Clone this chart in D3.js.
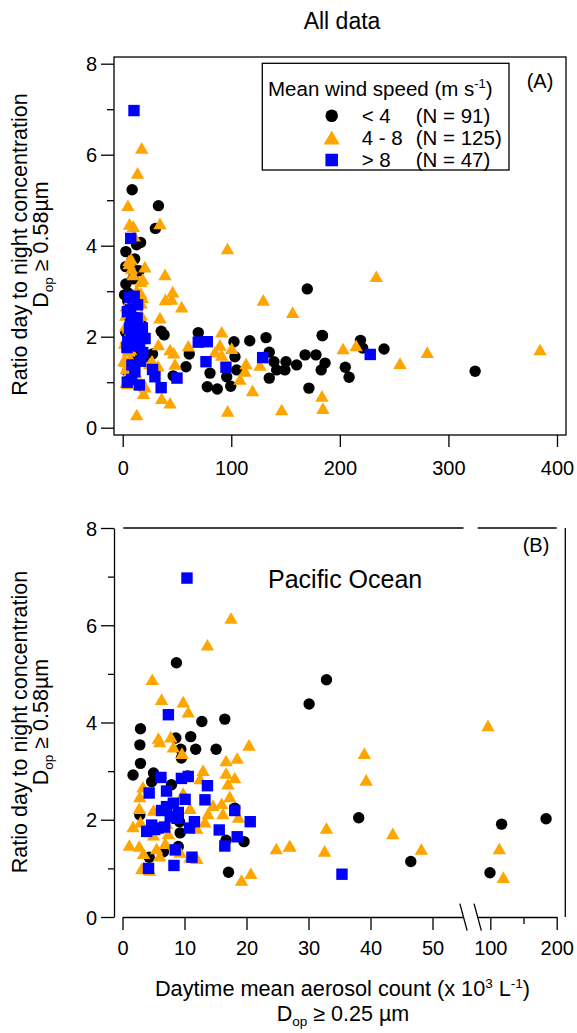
<!DOCTYPE html>
<html><head><meta charset="utf-8">
<script src="https://cdn.jsdelivr.net/npm/d3@7"></script>
<style>
body{margin:0;background:#fff}
svg{display:block}
text{font-family:"Liberation Sans",Arial,sans-serif;fill:#000}
</style>
</head><body>
<svg id="c" width="577" height="1033"></svg>
<script>
// ---- data: [daytime aerosol count (x10^3 /L), day/night ratio] ----
// Pacific Ocean subset (shown in both panels)
const pacificLow = [[8.7,5.23],[12.8,4.02],[16.5,4.07],[2.9,3.87],[2.8,3.54],[8.6,3.68],[11.0,3.71],[11.8,3.45],[15.1,3.45],[9.4,3.45],[9.5,3.27],[2.9,3.16],[1.7,2.92],[5.0,2.96],[4.7,2.78],[10.5,2.90],[7.9,2.72],[18.1,2.24],[2.8,2.10],[9.2,1.96],[9.3,1.73],[16.7,1.58],[19.6,1.55],[9.0,1.45],[4.3,1.23],[6.6,1.34],[17.1,0.92],[32.9,4.88],[30.1,4.38],[38.1,2.04],[46.5,1.14],[117,1.91],[184,2.02],[99.5,0.91]];
const pacificMid = [[13.7,5.6],[17.5,6.15],[4.8,4.89],[6.3,4.48],[9.8,4.43],[10.6,4.22],[5.8,3.68],[6.0,3.61],[7.8,3.71],[8.2,3.50],[9.6,3.37],[20.4,3.54],[16.7,3.22],[18.5,3.27],[13.0,3.02],[12.5,2.85],[16.7,2.96],[18.1,2.87],[17.0,2.74],[3.3,2.68],[2.8,2.48],[17.3,2.48],[2.7,2.24],[5.0,2.20],[14.6,2.30],[16.0,2.34],[16.2,2.13],[13.8,2.13],[10.9,2.24],[18.7,2.06],[2.9,1.96],[1.7,1.86],[13.3,1.96],[12.0,1.83],[9.8,2.55],[7.4,1.72],[5.0,1.69],[1.1,1.48],[2.7,1.46],[3.4,1.31],[5.5,1.41],[6.9,1.52],[6.0,1.26],[9.3,1.34],[12.0,1.21],[10.9,1.24],[3.1,1.00],[4.4,0.97],[24.8,1.41],[26.9,1.46],[19.2,0.76],[20.7,0.90],[7.1,1.93],[96.5,3.94],[39.0,3.37],[39.3,2.82],[32.9,1.83],[27.0,1.47],[32.6,1.36],[43.6,1.72],[48.2,1.40],[113.6,1.41],[119.6,0.82]];
const pacificHigh = [[10.4,6.97],[7.4,4.16],[6.2,2.87],[9.5,2.85],[10.6,2.89],[13.7,2.70],[4.3,2.55],[7.1,2.59],[13.3,2.41],[10.1,2.42],[8.2,2.34],[7.1,2.27],[6.3,2.19],[18.1,2.19],[7.7,2.06],[8.8,2.03],[11.6,1.96],[20.6,1.96],[4.7,1.89],[5.8,1.83],[3.9,1.76],[10.8,1.83],[15.6,1.79],[18.5,1.65],[8.5,1.38],[16.5,1.46],[11.2,1.23],[8.3,1.06],[4.2,1.00],[35.4,0.88],[5.2,1.80],[6.8,1.85],[9.0,2.15]];
// other regions (top panel only)
const otherLow = [[35.5,2.12],[27.5,1.62],[61.3,1.62],[58.3,1.34],[69.6,2.09],[80.4,1.20],[77.9,0.90],[87.1,0.85],[95.8,1.12],[102.5,1.89],[103.4,1.56],[105,1.27],[132,1.98],[135,1.66],[139.3,1.45],[135,1.09],[141.8,1.27],[150.4,1.45],[149.4,1.27],[160.2,1.38],[170,3.05],[183.7,2.03],[219,1.92],[221,1.75],[240.7,1.73],[324.6,1.24],[168,1.6],[178,1.6],[171.5,0.87],[186.4,1.42],[182.8,1.27],[205,1.33],[208.5,1.11]];
const otherMid = [[12.9,0.29],[34.3,4.49],[46,2.99],[45.1,2.83],[54.3,2.66],[34.3,2.42],[43.6,0.55],[35.9,0.65],[60.4,1.80],[47,1.65],[129.5,2.81],[156.5,2.54],[146.4,0.40],[96.7,0.37],[91.2,2.11],[85,1.67],[89.6,1.82],[91.2,1.6],[100.4,1.75],[108,1.07],[112.6,1.25],[126.4,1.38],[233.6,3.33],[203,1.74],[215,1.81],[280.5,1.66],[384.4,1.72],[255.4,1.42],[184.4,0.43],[183.5,0.70]];
const otherHigh = [[69.6,1.88],[77.9,1.89],[76.7,1.45],[95.1,1.33],[128.9,1.54],[228,1.61],[50,1.09],[29.7,1.12],[15.3,0.94],[27.5,1.28]];

const legendLabels = ["< 4","4 - 8","> 8"];
const legendCounts = ["(N = 91)","(N = 125)","(N = 47)"];
const topXTicks = [0,100,200,300,400];
const yMajor = [0,2,4,6,8];
const yMinor = [1,3,5,7];
const botLeftTicks = [0,10,20,30,40,50];
const botRightTicks = [100,200];
const botRightMinor = [150];

const ORANGE = "#FFA500", BLUE = "#0000FF", BLACK = "#000000";
const FS = 20;
const svg = d3.select("#c");

function drawMarkers(g, pts, type, xf, yf, s){
  s = s || 1;
  if(type === "circle"){
    g.selectAll(null).data(pts).join("circle")
      .attr("cx", d=>xf(d[0])).attr("cy", d=>yf(d[1])).attr("r", 5.7*s).attr("fill", BLACK);
  } else if(type === "tri"){
    const w = 6.7*s, h = 5.8*s;
    g.selectAll(null).data(pts).join("path")
      .attr("d", d=>{const x=xf(d[0]), y=yf(d[1]); return `M${x-w},${y+h}L${x+w},${y+h}L${x},${y-h}Z`;})
      .attr("fill", ORANGE);
  } else {
    const a = 5.7*s;
    g.selectAll(null).data(pts).join("rect")
      .attr("x", d=>xf(d[0])-a).attr("y", d=>yf(d[1])-a).attr("width", 2*a).attr("height", 2*a)
      .attr("fill", BLUE);
  }
}
function styleAxis(g){
  g.selectAll("line").attr("stroke","#000").attr("stroke-width",1.3);
  g.selectAll("path.domain").attr("stroke","#000").attr("stroke-width",1.3);
  g.selectAll("text").style("font-size", FS+"px").attr("fill","#000");
}

// ---------------- Title ----------------
svg.append("text").attr("x",342).attr("y",29).attr("text-anchor","middle")
  .style("font-size","23px").text("All data");

// ---------------- Panel A ----------------
const xA = d3.scaleLinear().domain([0,400]).range([122.7,557]);
const yA = d3.scaleLinear().domain([0,8]).range([427.7,63.7]);
const frameA = {l:114, t:57, r:566, b:435};

const ptsA = svg.append("g");
drawMarkers(ptsA.append("g"), otherLow.concat(pacificLow), "circle", xA, yA);
drawMarkers(ptsA.append("g"), otherMid.concat(pacificMid), "tri", xA, yA);
drawMarkers(ptsA.append("g"), otherHigh.concat(pacificHigh), "sq", xA, yA);

svg.append("rect").attr("x",frameA.l).attr("y",frameA.t)
  .attr("width",frameA.r-frameA.l).attr("height",frameA.b-frameA.t)
  .attr("fill","none").attr("stroke","#000").attr("stroke-width",1.3);

const axXA = svg.append("g").attr("transform",`translate(0,${frameA.b})`)
  .call(d3.axisBottom(xA).tickValues(topXTicks).tickSize(12).tickSizeOuter(0).tickFormat(d3.format("d")));
axXA.select(".domain").remove();
styleAxis(axXA);
axXA.selectAll("text").attr("y",40).attr("dy",null);

const axYA = svg.append("g").attr("transform",`translate(${frameA.l},0)`)
  .call(d3.axisLeft(yA).tickValues(yMajor).tickSize(13).tickPadding(4).tickFormat(d3.format("d")));
axYA.select(".domain").remove();
styleAxis(axYA);
axYA.selectAll("text").attr("dy","0.35em");
const axYAm = svg.append("g").attr("transform",`translate(${frameA.l},0)`)
  .call(d3.axisLeft(yA).tickValues(yMinor).tickSize(7).tickFormat(""));
axYAm.select(".domain").remove();
styleAxis(axYAm);

// legend
const leg = svg.append("g");
leg.append("rect").attr("x",262.3).attr("y",63.3).attr("width",246.7).attr("height",106.7)
  .attr("fill","#fff").attr("stroke","#000").attr("stroke-width",1.3);
const lt = leg.append("text").attr("x",268).attr("y",95.7).style("font-size","20.5px");
lt.append("tspan").text("Mean wind speed (m s");
lt.append("tspan").attr("dy",-8).style("font-size","13px").text("-1");
lt.append("tspan").attr("dy",8).text(")");
const rowY = [115.7,137.5,160];
const legTypes = ["circle","tri","sq"];
legTypes.forEach((t,i)=>{
  const gx = leg.append("g");
  drawMarkers(gx, [[0,rowY[i]]], t, ()=>331.7, d=>d, t==="tri"?1.2:1.1);
  leg.append("text").attr("x",361.7).attr("y",rowY[i]+7).style("font-size","20.5px").text(legendLabels[i]);
  leg.append("text").attr("x",415.7).attr("y",rowY[i]+7).style("font-size","20.5px").text(legendCounts[i]);
});
svg.append("text").attr("x",526.7).attr("y",88).style("font-size",FS+"px").text("(A)");

// y label
function yLabel(cy){
  svg.append("text").attr("transform",`translate(27,${cy}) rotate(-90)`).attr("text-anchor","middle")
    .style("font-size","21.5px").text("Ratio day to night concentration");
  const t = svg.append("text").attr("transform",`translate(48,${cy}) rotate(-90)`).attr("text-anchor","middle")
    .style("font-size","21.5px");
  t.append("tspan").text("D");
  t.append("tspan").attr("dy",5).style("font-size","13.5px").text("op");
  t.append("tspan").attr("dy",-5).text(" \u2265 0.58\u00b5m");
}
yLabel(244.5);

// ---------------- Panel B ----------------
const xBL = d3.scaleLinear().domain([0,55]).range([122.5,463.5]);
const xBR = d3.scaleLinear().domain([81,200]).range([477.7,556.7]);
const xB = v => v <= 55 ? xBL(v) : xBR(v);
const yB = d3.scaleLinear().domain([0,8]).range([917,528]);
const rightB = 565.3;

const ptsB = svg.append("g");
drawMarkers(ptsB.append("g"), pacificLow, "circle", xB, yB);
drawMarkers(ptsB.append("g"), pacificMid, "tri", xB, yB);
drawMarkers(ptsB.append("g"), pacificHigh, "sq", xB, yB);

const axYB = svg.append("g").attr("transform",`translate(114,0)`)
  .call(d3.axisLeft(yB).tickValues(yMajor).tickSize(13).tickSizeOuter(0).tickPadding(4).tickFormat(d3.format("d")));
styleAxis(axYB);
axYB.selectAll("text").attr("dy","0.35em");
const axYBm = svg.append("g").attr("transform",`translate(114,0)`)
  .call(d3.axisLeft(yB).tickValues(yMinor).tickSize(6).tickFormat(""));
axYBm.select(".domain").remove();
styleAxis(axYBm);

const axBL = svg.append("g").attr("transform",`translate(0,${yB(0)})`)
  .call(d3.axisBottom(xBL).tickValues(botLeftTicks).tickSize(13).tickSizeOuter(0).tickFormat(d3.format("d")));
styleAxis(axBL);
axBL.selectAll("text").attr("y",38).attr("dy",null);
const axBR = svg.append("g").attr("transform",`translate(0,${yB(0)})`)
  .call(d3.axisBottom(xBR).tickValues(botRightTicks).tickSize(13).tickSizeOuter(0).tickFormat(d3.format("d")));
styleAxis(axBR);
axBR.selectAll("text").attr("y",38).attr("dy",null);
const axBRm = svg.append("g").attr("transform",`translate(0,${yB(0)})`)
  .call(d3.axisBottom(xBR).tickValues(botRightMinor).tickSize(7).tickFormat(""));
axBRm.select(".domain").remove();
styleAxis(axBRm);

// mirror lines (top & right)
const topY = yB(8);
[[xBL.range()[0]+0.8, xBL.range()[1]],[xBR.range()[0], xBR.range()[1]]].forEach(r=>{
  svg.append("line").attr("x1",r[0]).attr("x2",r[1]).attr("y1",topY).attr("y2",topY)
    .attr("stroke","#000").attr("stroke-width",1.3);
});
svg.append("line").attr("x1",rightB).attr("x2",rightB).attr("y1",topY).attr("y2",yB(0))
  .attr("stroke","#000").attr("stroke-width",1.3);
// axis break marks
[xBL.range()[1], xBR.range()[0]].forEach(x=>{
  svg.append("line").attr("x1",x-3.65).attr("y1",yB(0)-13.3).attr("x2",x+3.65).attr("y2",yB(0)+13.7)
    .attr("stroke","#000").attr("stroke-width",1.3);
});

svg.append("text").attr("x",268).attr("y",588).style("font-size","25px").text("Pacific Ocean");
svg.append("text").attr("x",522.7).attr("y",551.5).style("font-size",FS+"px").text("(B)");
yLabel(722);

// x label
const xl = svg.append("text").attr("x",342.5).attr("y",996).attr("text-anchor","middle").style("font-size","21.7px");
xl.append("tspan").text("Daytime mean aerosol count (x 10");
xl.append("tspan").attr("dy",-8).style("font-size","13.5px").text("3");
xl.append("tspan").attr("dy",8).text(" L");
xl.append("tspan").attr("dy",-8).style("font-size","13.5px").text("-1");
xl.append("tspan").attr("dy",8).text(")");
const xl2 = svg.append("text").attr("x",343).attr("y",1021).attr("text-anchor","middle").style("font-size","21.5px");
xl2.append("tspan").text("D");
xl2.append("tspan").attr("dy",5).style("font-size","13.5px").text("op");
xl2.append("tspan").attr("dy",-5).text(" \u2265 0.25 \u00b5m");
</script>
</body></html>
